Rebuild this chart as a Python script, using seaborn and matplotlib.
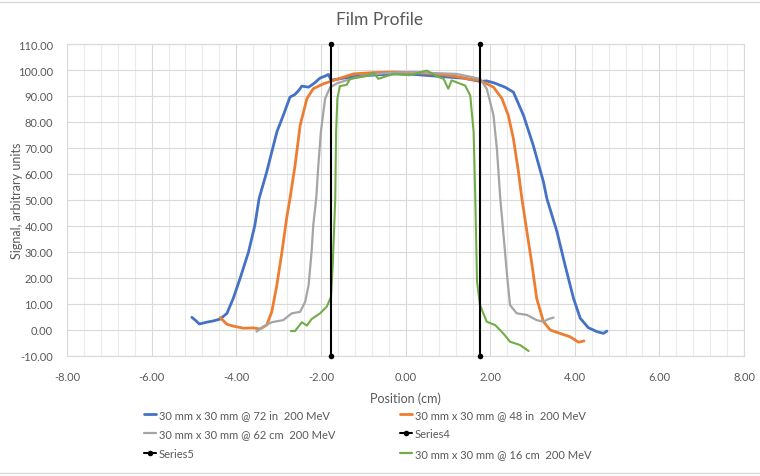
import matplotlib
matplotlib.use("Agg")
import matplotlib.pyplot as plt
import seaborn as sns
import pandas as pd
from matplotlib.ticker import MultipleLocator, FormatStrFormatter
from matplotlib.lines import Line2D

# ---------------- data ----------------
blue_x = [-5.05, -4.97, -4.87, -4.70, -4.54, -4.38, -4.22, -4.07, -3.91, -3.71, -3.56, -3.46, -3.28,
          -3.04, -2.89, -2.73, -2.62, -2.53, -2.45, -2.29, -2.15, -2.02, -1.88, -1.82, -1.76, -1.60,
          -1.30, -1.00, -0.60, -0.20, 0.20, 0.60, 1.00, 1.40, 1.76, 1.92, 2.10, 2.35, 2.55, 2.79,
          3.02, 3.26, 3.34, 3.58, 3.77, 3.97, 4.13, 4.32, 4.52, 4.68, 4.76]
blue_y = [4.9, 3.8, 2.3, 3.0, 3.5, 4.2, 6.4, 12.2, 19.8, 30.0, 40.3, 50.6, 60.8,
          76.2, 82.5, 89.6, 90.5, 92.0, 93.8, 93.4, 95.0, 96.9, 97.8, 98.3, 96.1, 96.5,
          97.3, 97.8, 98.2, 98.5, 98.3, 97.8, 97.3, 96.8, 95.6, 95.8, 95.0, 93.4, 91.5, 82.5,
          71.0, 57.0, 50.6, 37.8, 25.0, 12.2, 4.5, 0.9, -0.6, -1.3, -0.4]

orange_x = [-4.38, -4.22, -4.07, -3.83, -3.60, -3.44, -3.28, -3.16, -3.04, -2.92, -2.81, -2.73, -2.61,
            -2.49, -2.33, -2.18, -1.94, -1.70, -1.23, -0.76, -0.30, 0.20, 0.70, 1.20, 1.50, 1.76,
            2.08, 2.28, 2.43, 2.55, 2.67, 2.75, 2.87, 2.99, 3.10, 3.26, 3.42, 3.65, 3.89, 4.09, 4.22]
orange_y = [4.8, 2.2, 1.5, 0.7, 0.8, 0.4, 1.9, 7.0, 17.3, 30.0, 42.9, 50.6, 63.3,
            78.7, 89.0, 92.8, 94.7, 96.0, 98.5, 99.0, 99.2, 99.0, 98.5, 97.5, 96.5, 96.0,
            93.4, 89.0, 82.5, 73.6, 60.8, 50.6, 37.8, 25.0, 12.2, 3.2, 0.0, -1.3, -2.6, -4.7, -4.2]

gray_x = [-3.52, -3.36, -3.16, -2.89, -2.69, -2.49, -2.37, -2.29, -2.22, -2.18, -2.11, -2.06, -2.00,
          -1.90, -1.78, -1.60, -1.20, -0.80, -0.30, 0.20, 0.70, 1.20, 1.50, 1.76, 1.92, 2.00,
          2.08, 2.16, 2.24, 2.31, 2.40, 2.47, 2.63, 2.87, 3.10, 3.26, 3.38, 3.50]
gray_y = [-0.6, 1.3, 3.0, 3.8, 6.4, 7.0, 10.9, 17.3, 30.0, 40.3, 50.6, 63.3, 76.2,
          89.0, 93.4, 95.0, 97.0, 98.3, 99.0, 99.2, 98.8, 98.5, 97.5, 96.6, 92.8, 87.7,
          82.5, 69.7, 50.6, 37.8, 21.1, 9.6, 6.4, 5.8, 3.8, 3.2, 4.2, 4.8]

green_x = [-2.71, -2.61, -2.45, -2.33, -2.22, -2.02, -1.86, -1.76, -1.72, -1.66, -1.64, -1.61, -1.55,
           -1.39, -1.31, -0.91, -0.76, -0.64, -0.29, 0.10, 0.50, 0.75, 0.90, 1.01, 1.09, 1.41,
           1.53, 1.61, 1.65, 1.69, 1.76, 1.92, 2.12, 2.31, 2.47, 2.71, 2.91]
green_y = [-0.4, -0.4, 3.0, 1.7, 4.2, 6.4, 9.0, 12.8, 25.0, 50.6, 76.2, 89.0, 93.8,
           94.3, 96.6, 97.7, 99.0, 96.6, 98.5, 98.0, 99.8, 97.5, 96.6, 92.8, 96.0, 94.0,
           90.2, 76.2, 50.6, 18.6, 9.6, 3.2, 1.9, -1.3, -4.5, -5.8, -8.1]

series4_x = [-1.75, -1.75]
series4_y = [110.0, -10.0]
series5_x = [1.75, 1.75]
series5_y = [110.0, -10.0]

labels = ["30 mm x 30 mm @ 72 in  200 MeV",
          "30 mm x 30 mm @ 48 in  200 MeV",
          "30 mm x 30 mm @ 62 cm  200 MeV",
          "Series4",
          "Series5",
          "30 mm x 30 mm @ 16 cm  200 MeV"]
colors = ["#4472C4", "#ED7D31", "#A5A5A5", "#000000", "#000000", "#70AD47"]

x_ticks = [-8, -6, -4, -2, 0, 2, 4, 6, 8]
y_ticks = [-10, 0, 10, 20, 30, 40, 50, 60, 70, 80, 90, 100, 110]

# ---------------- style ----------------
sns.set_theme(style="white")
plt.rcParams['font.family'] = ['Lato', 'DejaVu Sans']
TXT = "#595959"

fig = plt.figure(figsize=(7.6, 4.77), dpi=100)
ax = fig.add_axes([67 / 760, 1 - 357 / 477, (744 - 67) / 760, (357 - 45) / 477])

curves = [(blue_x, blue_y, 0, 2.0), (orange_x, orange_y, 1, 2.0),
          (gray_x, gray_y, 2, 1.6), (green_x, green_y, 5, 1.5)]
for xs, ys, i, lw in curves:
    sns.lineplot(x=xs, y=ys, sort=False, estimator=None, color=colors[i], lw=lw,
                 ax=ax, legend=False, zorder=3)

for xs, ys, i in [(series4_x, series4_y, 3), (series5_x, series5_y, 4)]:
    sns.lineplot(x=xs, y=ys, sort=False, estimator=None, color=colors[i], lw=1.5,
                 marker="o", markersize=4, markeredgewidth=0, ax=ax, legend=False,
                 zorder=4, clip_on=False)

ax.set_xlim(-8, 8)
ax.set_ylim(-10, 110)
ax.set_xticks(x_ticks)
ax.set_yticks(y_ticks)
ax.xaxis.set_minor_locator(MultipleLocator(0.4))
ax.xaxis.set_major_formatter(FormatStrFormatter("%.2f"))
ax.yaxis.set_major_formatter(FormatStrFormatter("%.2f"))
ax.grid(which="major", color="#D9D9D9", lw=0.8)
ax.grid(which="minor", axis="x", color="#EBEBEB", lw=0.8)
ax.set_axisbelow(True)
for s in ax.spines.values():
    s.set_color("#D9D9D9")
    s.set_linewidth(0.8)
ax.tick_params(axis="both", which="both", length=0, labelsize=8, labelcolor=TXT)
ax.tick_params(axis="x", pad=11)
ax.tick_params(axis="y", pad=10)

ax.set_xlabel("Position (cm)", fontsize=9, color=TXT)
ax.xaxis.set_label_coords(0.5, -(392 - 357) / 312)
ax.set_ylabel("Signal, arbitrary units", fontsize=9, color=TXT, va="center")
ax.yaxis.set_label_coords(-(67 - 17) / 677, 0.5)
fig.text(0.5, 1 - 20 / 477, "Film Profile", ha="center", va="center", fontsize=12.5, color=TXT)

# legend (Excel-like, two columns)
def handle(i):
    if i in (3, 4):
        return Line2D([], [], color=colors[i], lw=1.5, marker="o", markersize=4, markeredgewidth=0)
    return Line2D([], [], color=colors[i], lw=2 if i < 2 else 1.6)

leg_kw = dict(loc="upper left", frameon=False, fontsize=8, handlelength=1.1,
              handletextpad=0.25, labelspacing=0.75, labelcolor=TXT,
              borderaxespad=0, borderpad=0)
for col_idx, x0 in [([0, 2, 4], 144), ([1, 3, 5], 400)]:
    fig.legend([handle(i) for i in col_idx], [labels[i] for i in col_idx],
               bbox_to_anchor=(x0 / 760, 1 - 410 / 477), **leg_kw)

# chart-area border lines
fig.add_artist(Line2D([0, 1], [1 - 2.5 / 477, 1 - 2.5 / 477], color="#D9D9D9", lw=1,
                      transform=fig.transFigure))
fig.add_artist(Line2D([0, 1], [1 - 474 / 477, 1 - 474 / 477], color="#D9D9D9", lw=1,
                      transform=fig.transFigure))

fig.savefig("out.png", dpi=100, facecolor="white")
